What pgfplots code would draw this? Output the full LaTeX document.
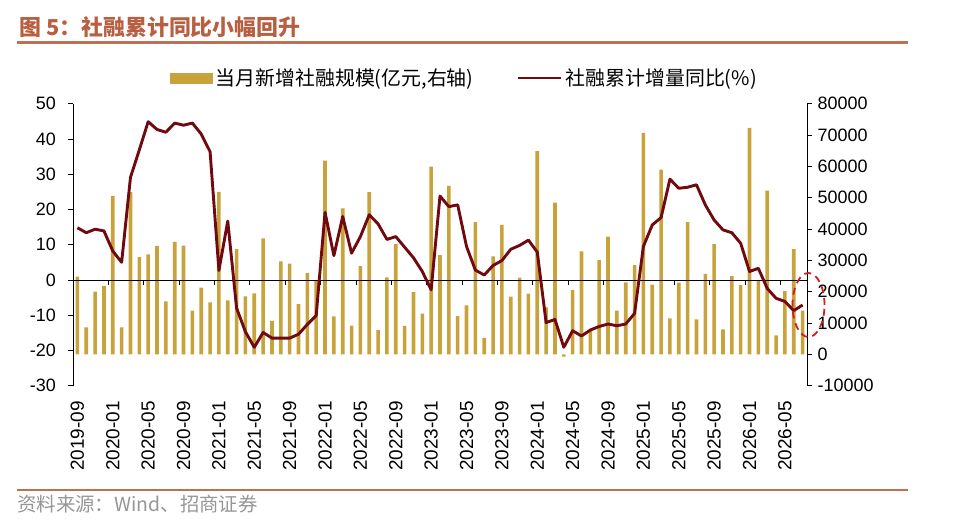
\documentclass[border=0pt]{standalone}
\usepackage{pgfplots}
\pgfplotsset{compat=1.18}
\usepackage{pgfplotstable}
\usepackage{fontspec}
\setmainfont{Liberation Sans}
\newfontfamily\cjk{Noto Sans CJK SC}
\definecolor{barcol}{RGB}{200,162,58}
\definecolor{linecol}{RGB}{112,10,16}
\definecolor{rulecol}{RGB}{192,112,82}
\definecolor{titlecol}{RGB}{185,95,65}
\definecolor{srccol}{RGB}{150,150,150}
\definecolor{ellcol}{RGB}{210,30,30}

\pgfplotstableread{
idx bar yoy
0 24800 14.8
1 8650 13.4
2 20000 14.4
3 21900 13.9
4 50600 8.2
5 8650 5.0
6 51800 29.1
7 31000 36.9
8 31900 44.9
9 34600 42.7
10 16900 41.9
11 35900 44.5
12 34700 43.9
13 13950 44.5
14 21300 41.4
15 16600 36.4
16 51900 2.7
17 17200 16.7
18 33600 -8.0
19 18500 -14.7
20 19500 -19.1
21 37000 -14.9
22 10700 -16.5
23 29700 -16.5
24 29000 -16.5
25 16000 -15.4
26 26000 -12.6
27 23500 -10.1
28 61800 19.2
29 12100 6.9
30 46600 18.0
31 9200 7.6
32 28200 12.3
33 51800 18.5
34 7700 15.9
35 24600 11.5
36 35300 12.3
37 9100 9.3
38 19900 6.3
39 13000 2.4
40 59900 -2.8
41 31700 23.8
42 53800 20.8
43 12200 21.3
44 15600 9.5
45 42200 2.8
46 5300 1.4
47 31300 4.1
48 41300 5.5
49 18400 8.7
50 24500 9.8
51 19400 11.3
52 64900 7.9
53 15000 -12.1
54 48400 -11.2
55 -700 -19.1
56 20500 -14.4
57 32900 -15.9
58 7700 -14.2
59 30100 -13.2
60 37600 -12.5
61 14000 -13.0
62 23000 -12.5
63 28500 -9.5
64 70700 9.5
65 22300 15.6
66 59000 17.7
67 11500 28.6
68 22900 26.0
69 42200 26.3
70 11200 27.0
71 25700 21.3
72 35200 17.0
73 8000 14.2
74 25000 13.4
75 22100 10.4
76 72300 2.4
77 23700 3.3
78 52300 -2.4
79 6100 -5.2
80 20200 -6.1
81 33600 -8.7
82 14000 -7.1
}\data

\begin{document}
\begin{tikzpicture}
\path[use as bounding box] (0bp,0bp) rectangle (976bp,-528bp);
\begin{axis}[
  at={(73bp,-385.7bp)}, anchor=south west, scale only axis,
  width=734bp, height=282bp,
  xmin=-0.5, xmax=82.5, ymin=-10000, ymax=80000,
  axis y line*=right, axis x line*=bottom,
  x axis line style={draw=none},
  ytick={-10000,0,10000,20000,30000,40000,50000,60000,70000,80000},
  scaled y ticks=false,
  xtick={0,4,...,80},
  xticklabels={2019-09,2020-01,2020-05,2020-09,2021-01,2021-05,2021-09,2022-01,2022-05,2022-09,2023-01,2023-05,2023-09,2024-01,2024-05,2024-09,2025-01,2025-05,2025-09,2026-01,2026-05},
  major x tick style={draw=none},
  tick align=outside, major tick length=4.5bp,
  tick style={black, line width=0.8bp},
  y axis line style={black, line width=0.8bp},
  /pgf/number format/assume math mode=true,
  /pgf/number format/1000 sep={},
  y tick label style={font=\fontsize{18}{18}\selectfont, inner sep=0pt, xshift=6bp, /pgf/number format/fixed},
  x tick label style={font=\fontsize{19}{19}\selectfont, rotate=90, anchor=east, inner sep=0pt, xshift=-11bp},
  ybar, bar width=3.6bp,
]
\addplot[fill=barcol, draw=none] table[x=idx,y=bar]{\data};
\end{axis}
\begin{axis}[
  at={(73bp,-385.7bp)}, anchor=south west, scale only axis,
  width=734bp, height=282bp,
  xmin=-0.5, xmax=82.5, ymin=-30, ymax=50,
  axis y line*=left, axis x line*=middle,
  axis line style={black, line width=0.8bp},
  xtick={3.5,7.5,...,79.5}, xticklabels={},
  ytick={-30,-20,...,50},
  tick align=outside, major tick length=5bp,
  tick style={black, line width=0.8bp},
  /pgf/number format/assume math mode=true,
  y tick label style={font=\fontsize{18}{18}\selectfont, inner sep=0pt, xshift=-12bp},
  legend style={at={(0.128,1.091)}, anchor=west, draw=none, fill=none,
    font=\cjk\fontsize{20}{20}\selectfont, legend columns=2,
    /tikz/every even column/.append style={column sep=40bp},
    nodes={inner sep=3bp}},
  legend cell align=left,
]
\addlegendimage{legend image code/.code={\fill[barcol] (0bp,-5bp) rectangle (42bp,5bp);}}
\addlegendentry{当月新增社融规模(亿元,右轴)}
\addplot[linecol, line width=2.9bp, line join=round,
  legend image code/.code={\draw[linecol, line width=2.9bp] (0bp,0bp) -- (43bp,0bp);}]
  table[x=idx,y=yoy]{\data};
\addlegendentry{社融累计增量同比(\%)}
\end{axis}
\node[anchor=west, inner sep=0pt, text=titlecol, font=\cjk\bfseries\fontsize{22}{22}\selectfont] at (19bp,-27bp) {图 5：社融累计同比小幅回升};
\draw[rulecol, line width=2.8bp] (17bp,-42.3bp) -- (908bp,-42.3bp);
\draw[rulecol, line width=2.8bp] (17bp,-490bp) -- (908bp,-490bp);
\node[anchor=west, inner sep=0pt, text=srccol, font=\cjk\fontsize{19.5}{19.5}\selectfont] at (17bp,-504bp) {资料来源：Wind、招商证券};
\draw[ellcol, line width=1.8bp, dash pattern=on 7bp off 5bp] (808.5bp,-305bp) ellipse [x radius=16bp, y radius=32bp];
\end{tikzpicture}
\end{document}
